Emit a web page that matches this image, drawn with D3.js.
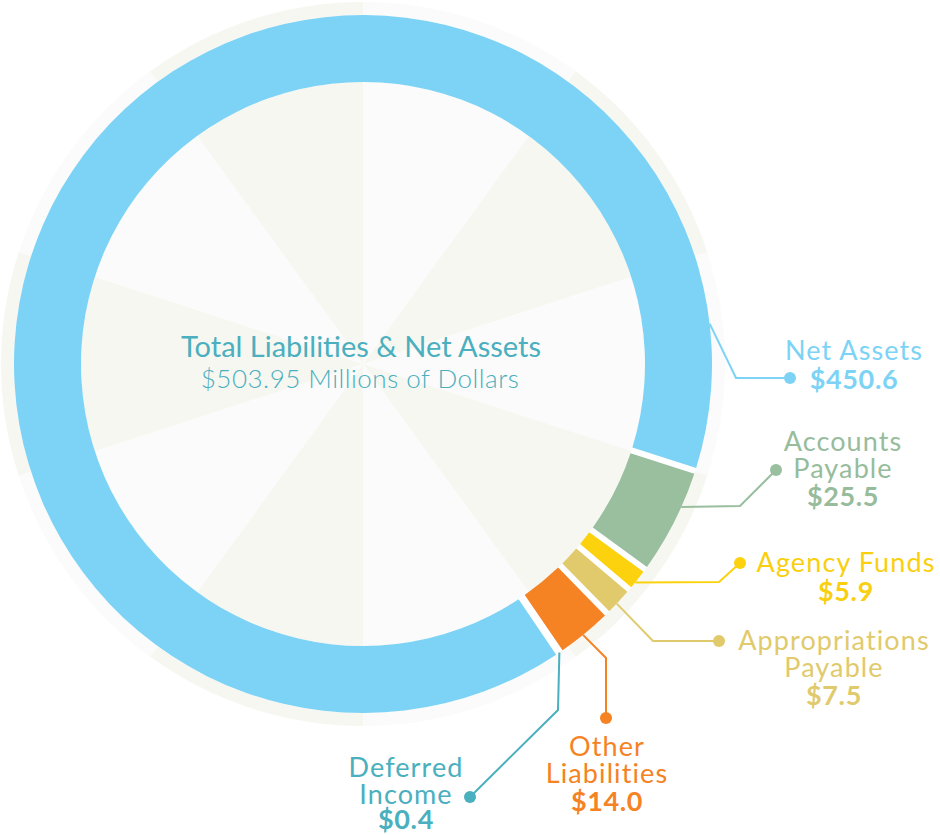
<!DOCTYPE html>
<html>
<head>
<meta charset="utf-8">
<script src="https://cdn.jsdelivr.net/npm/d3@7"></script>
<style>
  html, body { margin: 0; padding: 0; background: #ffffff; }
  svg { display: block; }
  text { font-family: Lato, "Open Sans", sans-serif; }
</style>
</head>
<body>
<svg id="chart" width="940" height="835"></svg>
<script>
// Statement of financial position, in millions of dollars
const categories = ["Net Assets", "Accounts Payable", "Agency Funds", "Appropriations Payable", "Other Liabilities", "Deferred Income"];
const values = [450.6, 25.5, 5.9, 7.5, 14.0, 0.4];
const labelLines = [["Net Assets"], ["Accounts", "Payable"], ["Agency Funds"], ["Appropriations", "Payable"], ["Other", "Liabilities"], ["Deferred", "Income"]];
const totalLabel = ["Total Liabilities & Net Assets", "$503.95 Millions of Dollars"];

// Styling and callout layout
const colors = ["#7dd3f5", "#99bf9f", "#fcd20f", "#e1ca6c", "#f58223", "#4aafbe"];
const textColors = ["#7dd3f5", "#97bc9c", "#f9cf10", "#e1ca6c", "#f58223", "#4aafbe"];
// t: where along the slice the leader leaves the ring; elbow/dot: leader path; lx, ly: label anchor & first baseline
const callouts = [
  { t: 0.924, elbow: [736, 378], dot: [790, 378], lx: 854, ly: 360 },
  { t: 0.35,  elbow: [740, 506], dot: [776, 470], lx: 843, ly: 451 },
  { t: 0.64,  elbow: [719, 582], dot: [740, 563], lx: 846, ly: 572 },
  { t: 0.58,  elbow: [653, 641], dot: [719, 641], lx: 834, ly: 650 },
  { t: 0.53,  elbow: [606, 658], dot: [606, 718], lx: 607, ly: 756 },
  { t: 0.5,   elbow: [558, 710], dot: [470, 797], lx: 406, ly: 777 }
];

const cx = 363, cy = 364;
const rHalo = 362, rOuter = 349, rInner = 282;
const startDeg = 145.9;

const svg = d3.select("#chart");
const g = svg.append("g").attr("transform", `translate(${cx},${cy})`);

// Faint sunburst backdrop: ten alternating wedges
const wedges = d3.range(10);
const wedgeArc = d3.arc().innerRadius(0).outerRadius(rHalo);
g.selectAll("path.wedge")
  .data(d3.pie().value(1).sort(null)(wedges))
  .join("path")
  .attr("class", "wedge")
  .attr("d", wedgeArc)
  .attr("fill", (d, i) => i % 2 === 0 ? "#fafbfa" : "#f7f7f2");

// White band underneath the slices so the gaps read as white
g.append("path")
  .attr("d", d3.arc().innerRadius(rInner).outerRadius(rOuter).startAngle(0).endAngle(2 * Math.PI)())
  .attr("fill", "#ffffff");

const pie = d3.pie().value(d => d).sort(null)
  .startAngle(startDeg * Math.PI / 180)
  .endAngle(startDeg * Math.PI / 180 + 2 * Math.PI);
const arcs = pie(values);
const arc = d3.arc().innerRadius(rInner).outerRadius(rOuter).padAngle(0.0134);

g.selectAll("path.slice")
  .data(arcs)
  .join("path")
  .attr("class", "slice")
  .attr("d", arc)
  .attr("fill", (d, i) => colors[i]);

// Centre title
svg.append("text")
  .attr("x", 361).attr("y", 357)
  .attr("text-anchor", "middle")
  .attr("fill", "#4aafbe")
  .attr("font-size", 29)
  .attr("font-weight", 400)
  .text(totalLabel[0]);
svg.append("text")
  .attr("x", 360).attr("y", 388)
  .attr("text-anchor", "middle")
  .attr("fill", "#4aafbe")
  .attr("font-size", 26)
  .attr("font-weight", 300)
  .attr("letter-spacing", 0.5)
  .text(totalLabel[1]);

// Leaders, dots and labels
const fmt = d3.format(".1f");
arcs.forEach((d, i) => {
  const c = callouts[i];
  const a = d.startAngle + c.t * (d.endAngle - d.startAngle);
  const start = [cx + rOuter * Math.sin(a), cy - rOuter * Math.cos(a)];
  svg.append("path")
    .attr("d", d3.line()([start, c.elbow, c.dot]))
    .attr("fill", "none")
    .attr("stroke", colors[i])
    .attr("stroke-width", 2);
  svg.append("circle")
    .attr("cx", c.dot[0]).attr("cy", c.dot[1]).attr("r", 6)
    .attr("fill", colors[i]);
  const lines = labelLines[i];
  lines.forEach((s, k) => {
    svg.append("text")
      .attr("x", c.lx).attr("y", c.ly + k * 26.5)
      .attr("text-anchor", "middle")
      .attr("fill", textColors[i])
      .attr("font-size", 27)
      .attr("letter-spacing", 1.1)
      .text(s);
  });
  svg.append("text")
    .attr("x", c.lx)
    .attr("y", Math.min(c.ly + (lines.length - 1) * 26.5 + 28.5, 829))
    .attr("text-anchor", "middle")
    .attr("fill", textColors[i])
    .attr("font-size", 27)
    .attr("font-weight", 700)
    .attr("letter-spacing", 0.6)
    .text("$" + fmt(values[i]));
});
</script>
</body>
</html>
